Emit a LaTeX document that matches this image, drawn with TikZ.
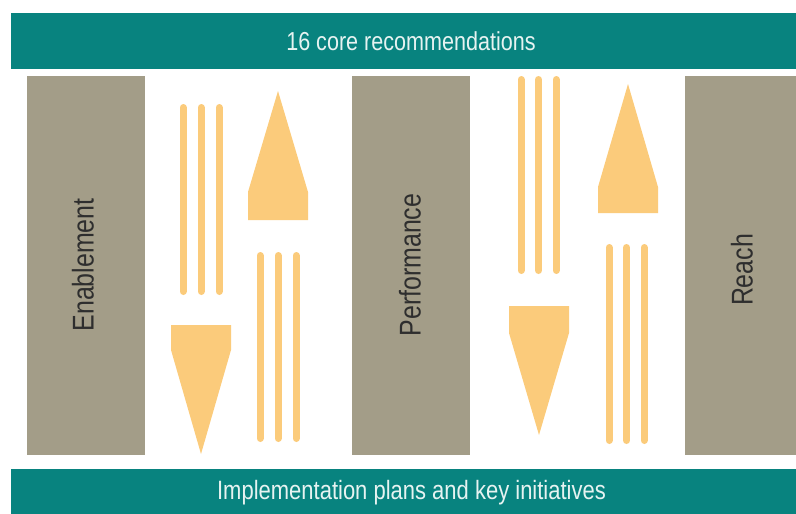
\documentclass[tikz,border=0pt]{standalone}
\usepackage{fontspec}
\usepackage{xcolor}
\usepackage{tikz}
\usetikzlibrary{positioning}
\newfontfamily\condfont{Liberation Sans}[FakeStretch=0.83]
\definecolor{tealc}{HTML}{08837F}
\definecolor{greyc}{HTML}{A39D88}
\definecolor{goldc}{HTML}{FBCB7B}
\definecolor{paletxt}{HTML}{E6F3F1}
\definecolor{darktxt}{HTML}{2E2E2E}
\tikzset{
  bar/.style={fill=tealc,draw=none,inner sep=0pt},
  bartext/.style={text=paletxt,font=\condfont\fontsize{26}{30}\selectfont,inner sep=0pt},
  pillar/.style={fill=greyc,draw=none,inner sep=0pt,minimum height=379pt},
  pillartext/.style={text=darktxt,font=\condfont\fontsize{30}{34}\selectfont,rotate=90,inner sep=0pt},
  stripe/.style={goldc,line width=7pt,line cap=round},
  tipshape/.style={fill=goldc,draw=none}
}
\begin{document}
\begin{tikzpicture}[x=1pt,y=-1pt]
\useasboundingbox (0,0) rectangle (796,514);
% bands
\node[bar,minimum width=785pt,minimum height=56pt] (topbar) at (403.5,41) {};
\node[bartext] (toptext) at (411,41) {16 core recommendations};
\node[bar,minimum width=785pt,minimum height=45pt] (botbar) at (403.5,491.5) {};
\node[bartext,font=\condfont\fontsize{26.5}{30}\selectfont] (bottext) at (411.5,493) {Implementation plans and key initiatives};
% pillars
\node[pillar,minimum width=118pt] (enable) at (86,265.5) {};
\node[pillar,minimum width=118pt] (perform) at (411,265.5) {};
\node[pillar,minimum width=111pt] (reach) at (740.5,265.5) {};
\node[pillartext] (enabletext) at (83,265) {Enablement};
\node[pillartext] (performtext) at (410,265) {Performance};
\node[pillartext] (reachtext) at (742,270) {Reach};
% stripes
\foreach \x in {183,201,219} \draw[stripe] (\x,107.5) -- (\x,291.5);
\foreach \x in {260,278,296} \draw[stripe] (\x,255.5) -- (\x,438.5);
\foreach \x in {521,538.5,556} \draw[stripe] (\x,79.5) -- (\x,270.5);
\foreach \x in {609,626.5,644} \draw[stripe] (\x,247.5) -- (\x,440.5);
% up and down heads
\fill[tipshape] (278,91)--(308,192)--(308,220)--(248,220)--(248,192)--cycle;
\fill[tipshape] (201,454)--(231,350)--(231,325)--(171,325)--(171,350)--cycle;
\fill[tipshape] (628,84)--(658,187)--(658,213)--(598,213)--(598,187)--cycle;
\fill[tipshape] (539,435)--(569,333)--(569,306)--(509,306)--(509,333)--cycle;
\end{tikzpicture}
\end{document}
